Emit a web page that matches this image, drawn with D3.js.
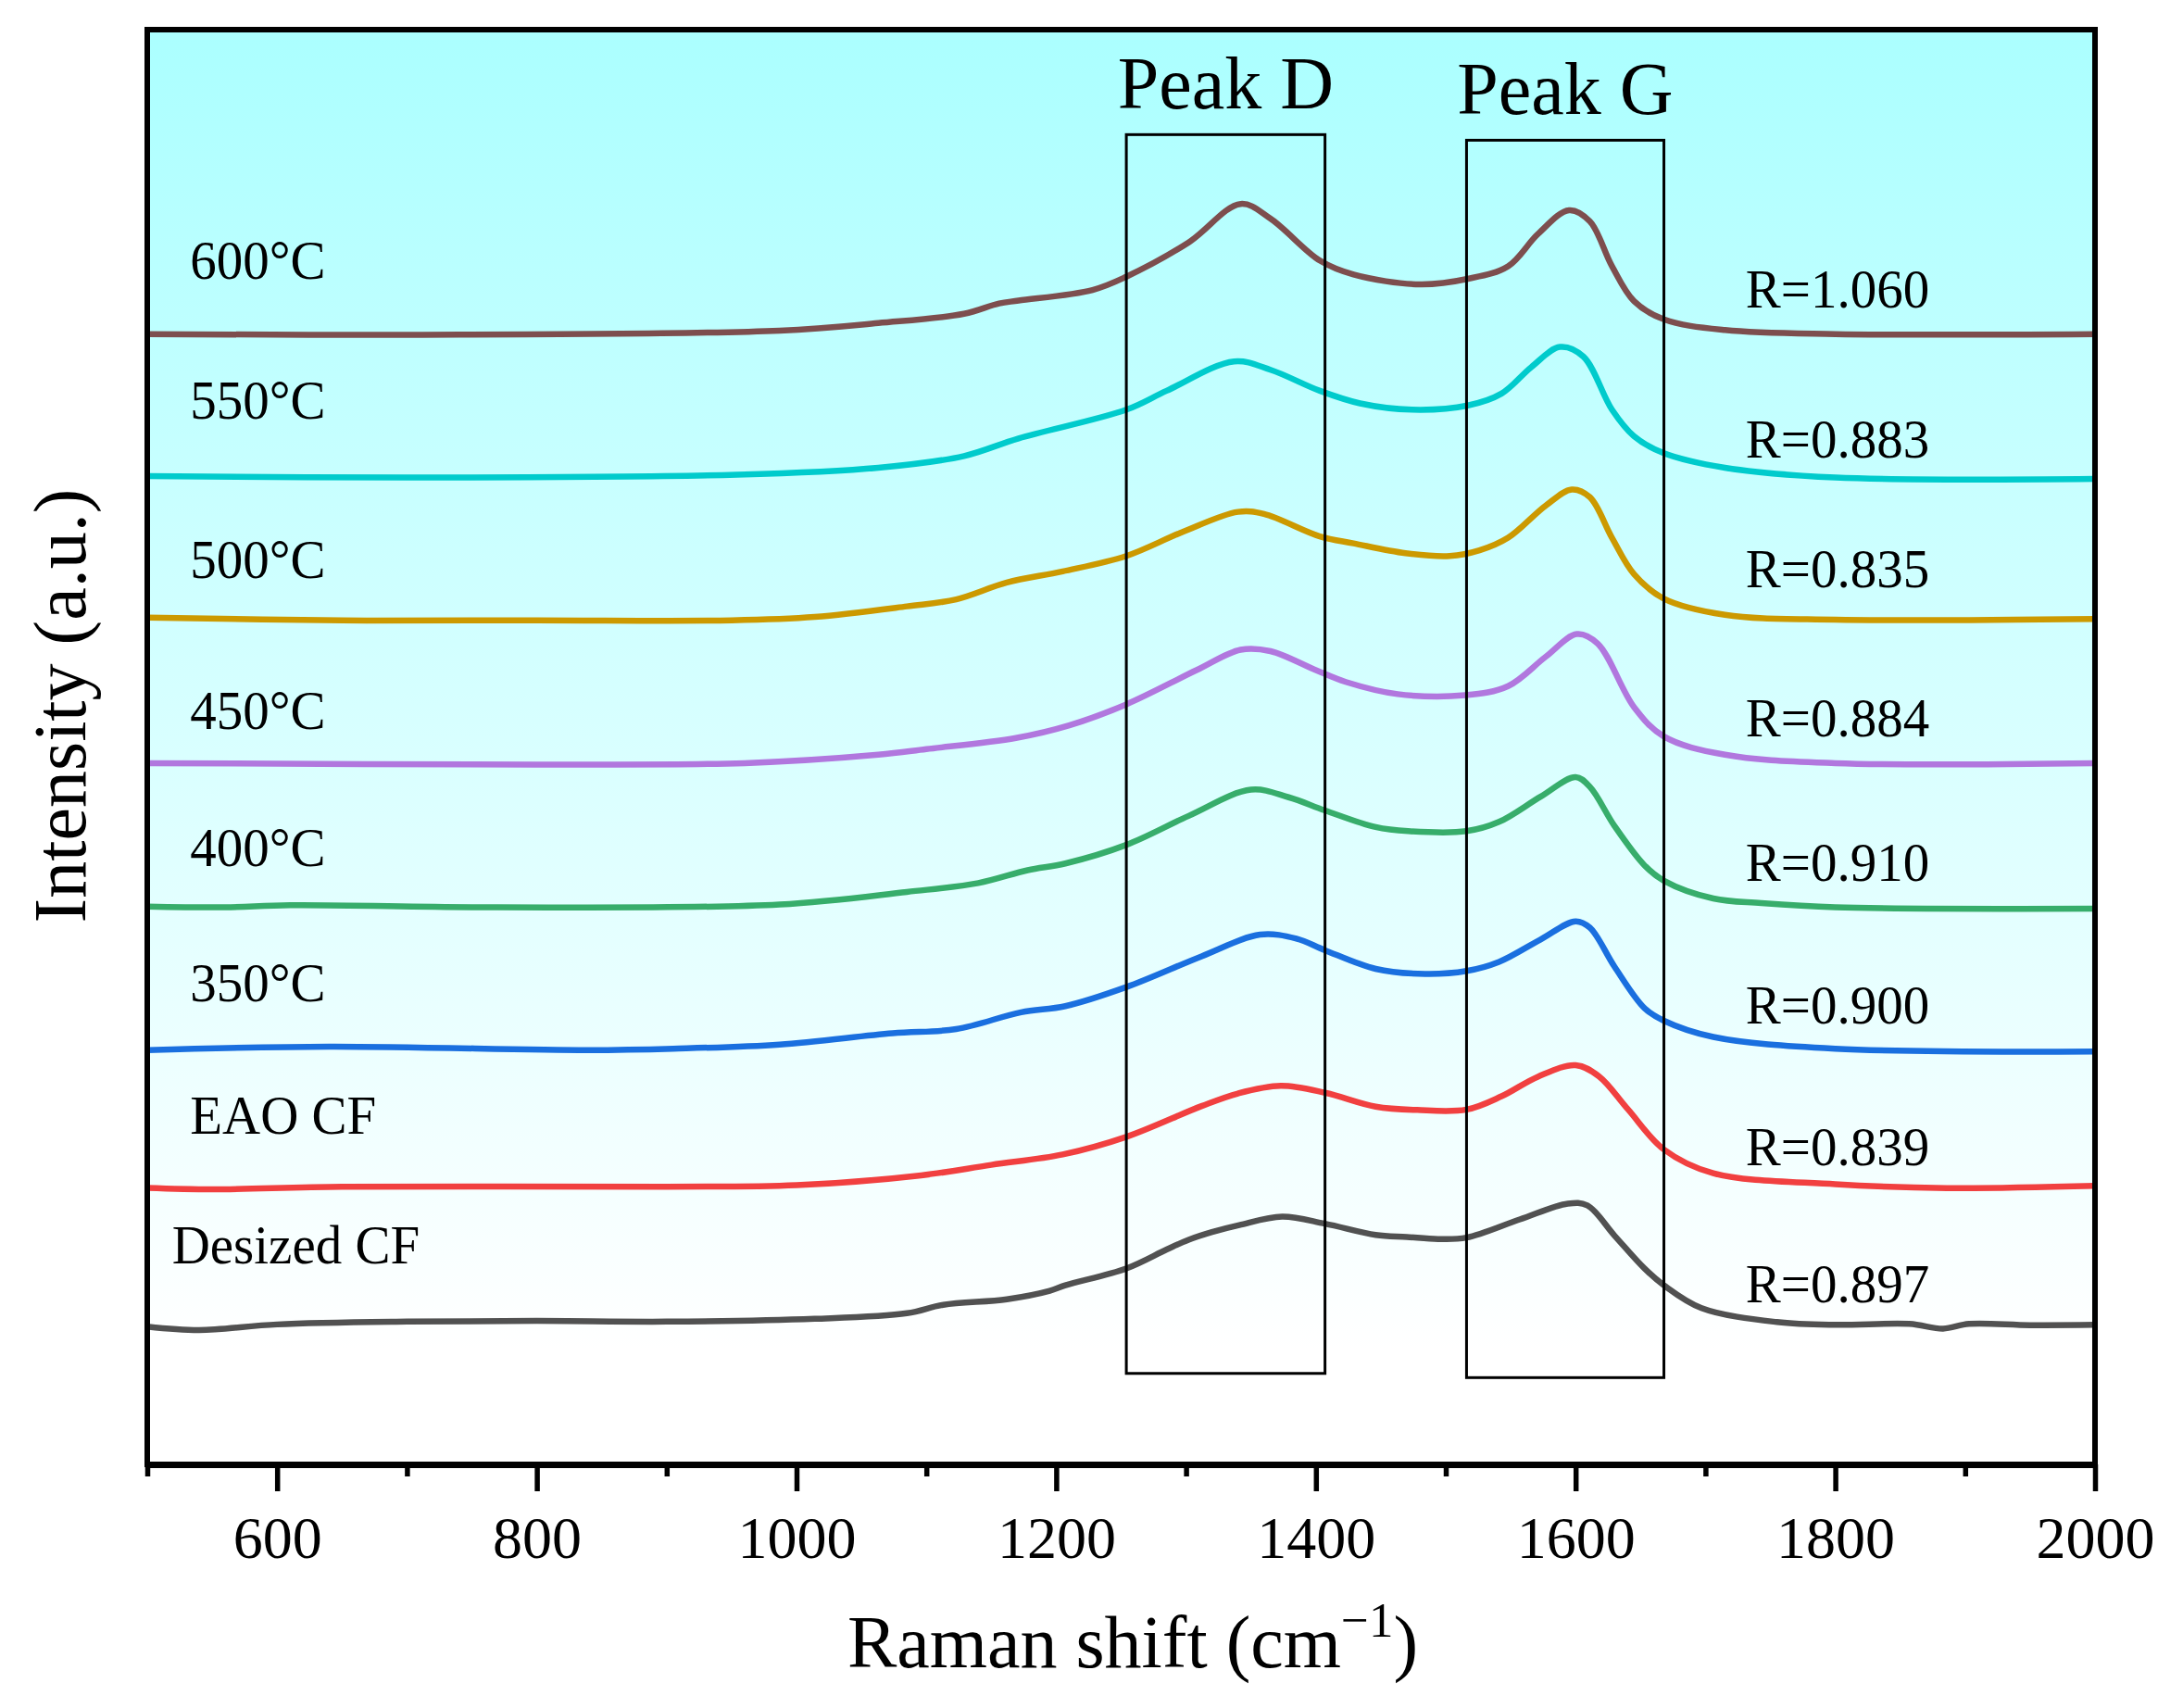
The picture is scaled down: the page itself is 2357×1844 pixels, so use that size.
<!DOCTYPE html>
<html>
<head>
<meta charset="utf-8">
<script src="https://cdn.jsdelivr.net/npm/d3@7"></script>
<style>
  html, body { margin: 0; padding: 0; background: #fff; }
  text { font-family: "Liberation Serif", "Times New Roman", serif; fill: #000; }
</style>
</head>
<body>
<div id="chart"></div>
<script>
// Raman spectra, [shift (cm-1), intensity (a.u., stacked offset included)]
const desizedCF = [[500,98.5],[540,96],[600,100],[700,102],[800,102.5],[900,102],[1014,104],[1085,108],[1113,114],
  [1162,118],[1195,124],[1207,128],[1254,140],[1285,153.5],[1302,160.5],[1320,166],[1341,171],[1374,177],[1407,172],
  [1446,164],[1470,162.5],[1494,161],[1516,162],[1557,175],[1594,186.3],[1609,185],[1630,163.4],[1653,140],[1668,128],
  [1697,111.7],[1755,101.7],[1800,99.7],[1857,100.4],[1883,97],[1903,100.4],[1950,99.5],[2000,99.7]];
const eaoCF = [[500,197.5],[550,196.5],[650,198.4],[900,198.4],[1000,199.5],[1096,206.5],[1150,214],[1205,221.4],
  [1254,234],[1312,256],[1340,265],[1373,270.4],[1407,265.5],[1446,255.6],[1478,253.2],[1516,253.5],[1543,263],
  [1571,277],[1600,285.2],[1618,277.2],[1640,254],[1668,225],[1706,208],[1800,200.2],[1886,197.4],[2000,199]];
const c350 = [[500,296],[640,298.5],[840,296],[905,297],[987,300],[1074,308],[1123,311],[1173,323],[1207,327.4],
  [1254,341],[1312,363],[1357,378.5],[1385,375.6],[1407,367.3],[1446,354],[1484,350.4],[1516,352.5],[1541,359],
  [1573,375],[1600,388],[1611,383.5],[1630,355.5],[1653,326],[1668,317],[1706,305.4],[1800,297],[2000,295]];
const c400 = [[500,398.6],[560,398],[610,399.5],[770,398],[987,400],[1085,409],[1140,415.3],[1178,424.5],[1207,429.3],
  [1254,442.6],[1302,463.3],[1350,482],[1379,476.6],[1407,467.2],[1446,455.3],[1471,452.4],[1516,452.4],[1541,459],
  [1573,477],[1600,491],[1611,484],[1630,456],[1653,428],[1668,417],[1706,404.3],[1743,401],[1800,398],[2000,397]];
const c450 = [[500,501],[800,500],[960,501],[1063,507],[1100,511],[1169,519],[1210,528],[1254,543],[1308,567.4],
  [1342,582],[1365,581],[1400,567.4],[1423,559],[1463,550.3],[1515,549.5],[1548,556],[1577,577],[1601,593.2],
  [1617,586.4],[1645,541],[1668,520],[1715,507],[1800,501],[2000,501]];
const c500 = [[500,605],[650,603],[800,603],[950,603],[1014,605.4],[1085,613],[1123,618],[1162,630],[1205,638],
  [1254,649],[1297,666],[1340,680.5],[1360,679],[1403,663],[1429,658],[1469,651],[1503,649],[1526,653],[1548,662],
  [1577,685],[1597,696.5],[1611,691],[1628,662],[1645,636],[1668,618.5],[1715,607],[1800,603.5],[2000,604]];
const c550 = [[500,706],[700,705],[954,707],[1063,712],[1129,720.4],[1171,733],[1254,753.5],[1285,767],[1337,788],
  [1365,782],[1403,767],[1434,758],[1474,753.5],[1517,756.5],[1543,765],[1566,784],[1588,798.3],[1606,791.4],
  [1628,753.5],[1645,734.5],[1668,722.4],[1715,712],[1800,705],[2000,704]];
const c600 = [[500,807.5],[700,807],[987,810],[1063,815.4],[1129,822],[1156,829.4],[1171,831.4],[1228,839],[1254,848.5],
  [1302,873],[1342,900.5],[1365,890],[1403,860],[1429,850],[1480,843],[1517,847],[1548,856],[1571,879],[1595,896],
  [1611,888],[1628,856],[1645,831],[1668,818],[1715,810.4],[1800,807.5],[2000,807.5]];

const seriesNames = ["Desized CF", "EAO CF", "350°C", "400°C", "450°C", "500°C", "550°C", "600°C"];
const seriesData = [desizedCF, eaoCF, c350, c400, c450, c500, c550, c600];
const seriesColors = ["#515151", "#F14040", "#1A6FDF", "#37AD6B", "#B177DE", "#CC9900", "#00CBCC", "#7D4E4E"];
const rValues = ["0.897", "0.839", "0.900", "0.910", "0.884", "0.835", "0.883", "1.060"];

// label anchors in data units (shift, intensity)
const nameLabelPos = [[519,143.9],[533,236.2],[533,331.1],[533,427.5],[533,525.1],[533,633],[533,747.1],[533,847]];
const rLabelPos = [[1731,115.8],[1731,213.7],[1731,315],[1731,416.9],[1731,520.1],[1731,626.7],[1731,719.3],[1731,826.5]];

// peak boxes: shift range and intensity range
const peakBoxes = [
  { label: "Peak D", x0: 1254, x1: 1407, y0: 65, y1: 950 },
  { label: "Peak G", x0: 1516, x1: 1668, y0: 62, y1: 946 }
];

const majorTicks = [600, 800, 1000, 1200, 1400, 1600, 1800, 2000];
const minorTicks = [500, 700, 900, 1100, 1300, 1500, 1700, 1900];

const width = 2357, height = 1844;
const margin = { left: 159, right: 95, top: 32, bottom: 263 };

const svg = d3.select("#chart").append("svg")
  .attr("width", width)
  .attr("height", height);

const x = d3.scaleLinear().domain([500, 2000]).range([margin.left, width - margin.right]);
const y = d3.scaleLinear().domain([0, 1025]).range([height - margin.bottom, margin.top]);

// fond en dégradé
const grad = svg.append("defs").append("linearGradient")
  .attr("id", "bg").attr("x1", 0).attr("y1", 0).attr("x2", 0).attr("y2", 1);
grad.append("stop").attr("offset", "0%").attr("stop-color", "#abffff");
grad.append("stop").attr("offset", "92%").attr("stop-color", "#ffffff");

svg.append("rect")
  .attr("x", x(500)).attr("y", y(1025))
  .attr("width", x(2000) - x(500)).attr("height", y(0) - y(1025))
  .attr("fill", "url(#bg)");

// courbes
const line = d3.line()
  .x(d => x(d[0]))
  .y(d => y(d[1]))
  .curve(d3.curveCatmullRom.alpha(0.5));

svg.selectAll(".spectrum")
  .data(seriesData)
  .join("path")
  .attr("class", "spectrum")
  .attr("d", line)
  .attr("fill", "none")
  .attr("stroke", (d, i) => seriesColors[i])
  .attr("stroke-width", 6.5)
  .attr("stroke-linejoin", "round");

// noms des séries (texte un peu resserré comme l'original)
svg.selectAll(".name-label")
  .data(seriesNames)
  .join("text")
  .attr("class", "name-label")
  .attr("transform", (d, i) => `translate(${x(nameLabelPos[i][0])}, ${y(nameLabelPos[i][1])}) scale(0.95, 1)`)
  .style("font-size", "60px")
  .text(d => d);

// valeurs R
svg.selectAll(".r-label")
  .data(rValues)
  .join("text")
  .attr("class", "r-label")
  .attr("transform", (d, i) => `translate(${x(rLabelPos[i][0])}, ${y(rLabelPos[i][1])}) scale(0.95, 1)`)
  .style("font-size", "60px")
  .text(d => "R=" + d);

// cadres des pics
svg.selectAll(".peak-box")
  .data(peakBoxes)
  .join("rect")
  .attr("class", "peak-box")
  .attr("x", d => x(d.x0))
  .attr("y", d => y(d.y1))
  .attr("width", d => x(d.x1) - x(d.x0))
  .attr("height", d => y(d.y0) - y(d.y1))
  .attr("fill", "none")
  .attr("stroke", "#000")
  .attr("stroke-width", 3);

svg.selectAll(".peak-label")
  .data(peakBoxes)
  .join("text")
  .attr("class", "peak-label")
  .attr("x", d => (x(d.x0) + x(d.x1)) / 2)
  .attr("y", d => y(d.y1) - 28)
  .style("font-size", "80px")
  .style("text-anchor", "middle")
  .text(d => d.label);

// cadre du graphique
svg.append("rect")
  .attr("x", x(500)).attr("y", y(1025))
  .attr("width", x(2000) - x(500)).attr("height", y(0) - y(1025))
  .attr("fill", "none")
  .attr("stroke", "#000")
  .attr("stroke-width", 6);

// axe X
const xAxis = svg.append("g")
  .attr("transform", `translate(0, ${y(0)})`)
  .call(d3.axisBottom(x).tickValues(majorTicks).tickSize(29).tickPadding(27).tickSizeOuter(0)
    .tickFormat(d3.format("d")));
xAxis.select(".domain").attr("stroke-width", 7);
xAxis.selectAll(".tick line").attr("stroke-width", 5.5);
xAxis.selectAll(".tick text")
  .style("font-family", "'Liberation Serif', 'Times New Roman', serif")
  .style("font-size", "64px");

const xMinor = svg.append("g")
  .attr("transform", `translate(0, ${y(0)})`)
  .call(d3.axisBottom(x).tickValues(minorTicks).tickSize(13).tickFormat(""));
xMinor.select(".domain").remove();
xMinor.selectAll(".tick line").attr("stroke-width", 5.5);

// titres des axes
const xTitle = svg.append("text")
  .attr("x", 1223)
  .attr("y", 1800)
  .style("font-size", "80px")
  .style("text-anchor", "middle");
xTitle.append("tspan").text("Raman shift (cm");
xTitle.append("tspan").attr("dy", -33).style("font-size", "53px").text("\u22121");
xTitle.append("tspan").attr("dy", 33).text(")");

svg.append("text")
  .attr("transform", "translate(92, 762) rotate(-90)")
  .style("font-size", "80px")
  .style("text-anchor", "middle")
  .text("Intensity (a.u.)");
</script>
</body>
</html>
